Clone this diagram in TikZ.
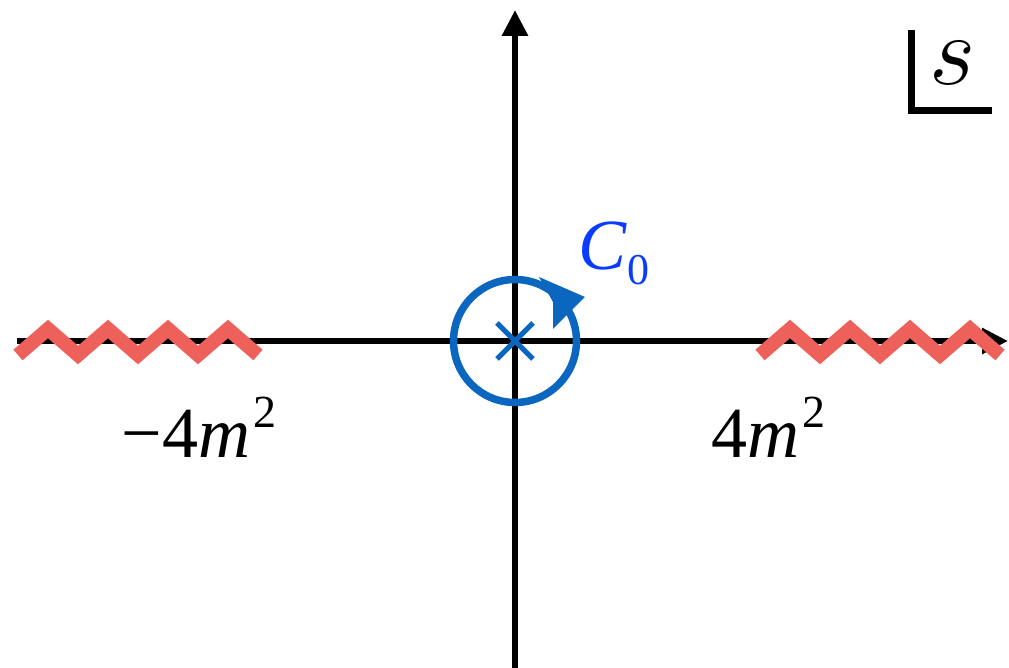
\RequirePackage{fix-cm}
\documentclass[tikz,border=0pt]{standalone}
\usepackage[no-math]{fontspec}
\setmainfont{Liberation Serif}
\usetikzlibrary{arrows.meta}
\definecolor{ink}{HTML}{000000}
\definecolor{ctrblue}{HTML}{0A66BF}
\definecolor{cutred}{HTML}{EE615B}
\definecolor{lblblue}{HTML}{0A3CFF}
\newcommand{\sqrd}{\kern1.5pt\raisebox{15pt}{\fontsize{23}{23}\selectfont 2}}
\tikzset{>={Triangle[width=12.5pt,length=13pt]},
  every node/.style={inner sep=0pt,font=\fontsize{36}{36}\selectfont},
  axis/.style={->,draw=ink,line width=3pt},
  branch/.style={draw=cutred,line width=7pt,line join=miter},
  contour/.style={draw=ctrblue,line width=3.75pt},
  pole/.style={draw=ctrblue,line width=2.5pt}}
\begin{document}
\begin{tikzpicture}[x=0.5pt,y=-0.5pt]
\useasboundingbox(0,0)rectangle(1009,668);
\draw[axis](17,341)--(1008,341);\draw[axis](515,668)--(515,10);
% branch cuts
\draw[branch](18,355)\foreach \k in {0,...,3}{--++(30,-26)--++(30,26)};
\draw[branch](760,355)\foreach \k in {0,...,3}{--++(30,-26)--++(30,26)};
% contour round the pole
\draw[contour](515,341)circle[radius=61.5];
\fill[ctrblue](585,297)--(539,277)--(553,302)--(553,329)--cycle;
\draw[pole](497,323)--(533,359)(533,323)--(497,359);
\node[lblblue,anchor=base west](c0)at(578,270){\textit{C}\raisebox{-7.5pt}{\fontsize{22}{22}\selectfont 0}};
\node[anchor=base west](lft)at(121,458){−4\textit{m}\sqrd};
\node[anchor=base west](rgt)at(711,458){4\textit{m}\sqrd};
% plane label
\draw[ink,line width=3.2pt](911.5,30)|-(992,110.5);
\node[anchor=base,font=\fontsize{50}{50}\selectfont](sv)at(953,85){$s$};
\end{tikzpicture}
\end{document}
